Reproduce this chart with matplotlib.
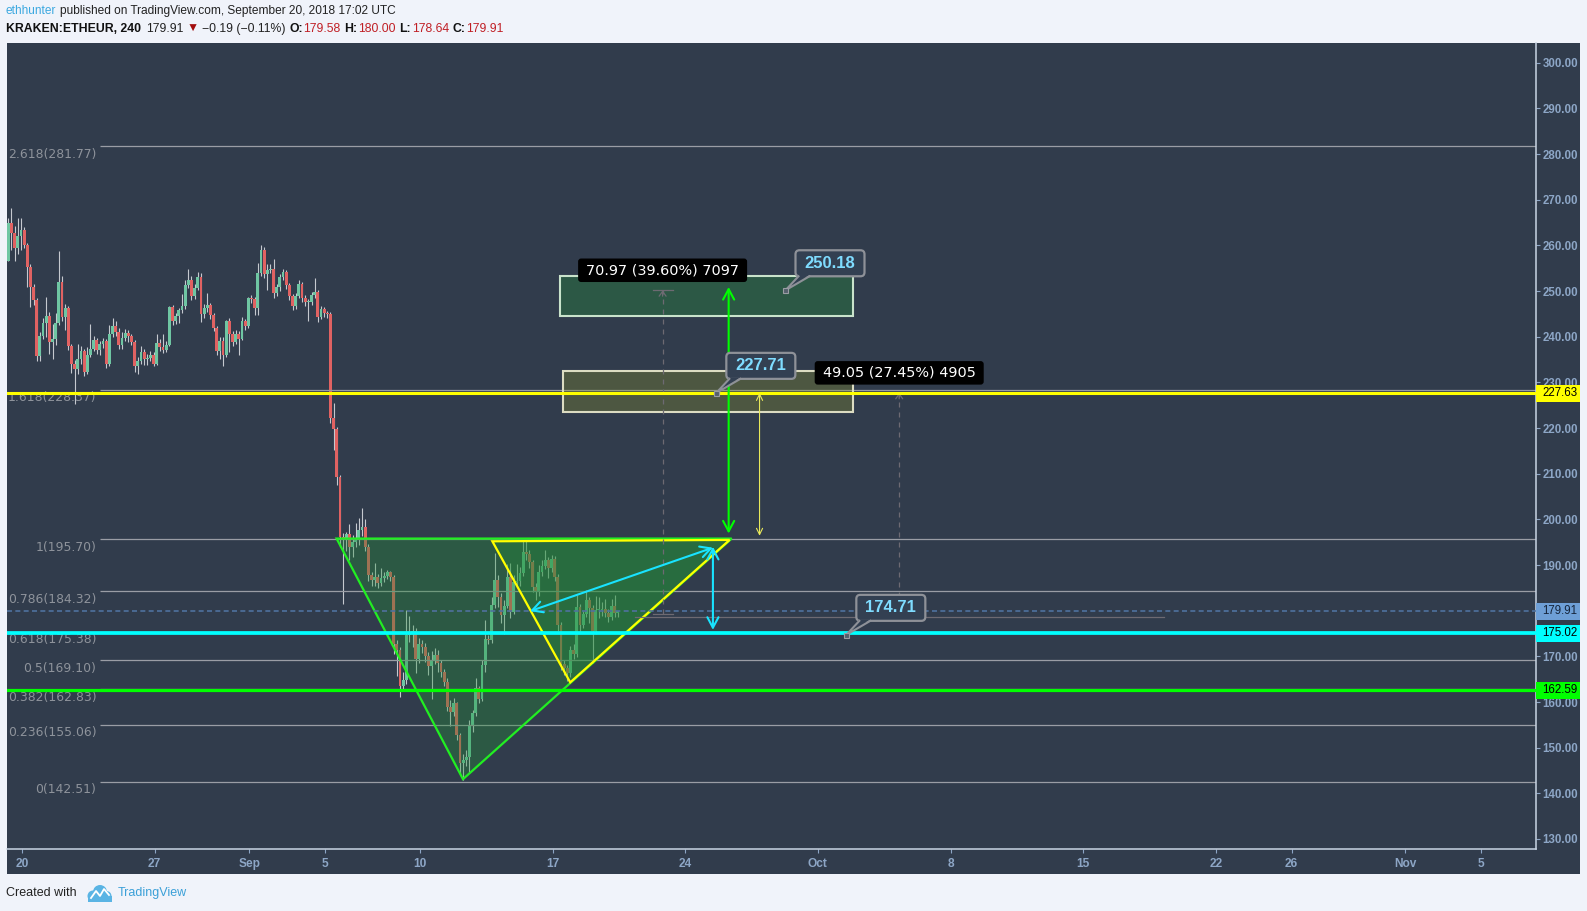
import matplotlib
matplotlib.use("Agg")
import matplotlib.pyplot as plt
from matplotlib.patches import Rectangle, Polygon, FancyBboxPatch, Circle
from matplotlib.transforms import IdentityTransform
import numpy as np

# ---------------- data ----------------
first_open = 256.6
closes = [
    264.9, 262.8, 259.5, 262.0, 263.3, 260.1, 255.3, 250.9, 248.0, 235.7,
    240.1, 243.1, 244.5, 238.9, 239.5, 243.0, 252.0, 244.4, 246.4, 238.0,
    234.1, 233.0, 235.2, 236.8, 232.3, 236.0, 237.4, 239.2, 237.1, 238.4,
    239.1, 234.0, 240.7, 242.3, 241.1, 238.2, 239.8, 240.9, 240.1, 238.9,
    233.6, 234.7, 236.7, 235.2, 235.4, 236.0, 234.1, 238.7, 237.8, 237.2,
    238.3, 246.5, 243.4, 244.5, 245.8, 246.7, 251.4, 252.4, 248.9, 250.7,
    253.0, 245.0, 246.4, 246.9, 244.7, 241.9, 236.8, 239.1, 236.0, 243.4,
    240.5, 238.9, 240.7, 239.6, 243.4, 242.3, 248.4, 248.2, 246.2, 253.9,
    258.9, 253.8, 254.6, 254.9, 249.6, 250.8, 253.0, 254.2, 251.3, 248.9,
    246.7, 248.9, 251.5, 248.4, 247.6, 247.6, 249.1, 249.7, 244.4, 246.0,
    245.1, 245.0, 222.3,
    219.9, 209.2, 196.2, 195.6, 196.8, 194.0, 195.0, 195.8, 197.6, 198.4,
    194.0, 187.9, 186.7, 187.4, 186.0, 187.1, 187.6, 188.5, 187.4, 172.8,
    171.4, 163.5, 164.8, 174.7, 175.2, 175.6, 169.5, 172.8, 172.1, 170.1,
    167.9, 169.2, 170.3, 168.5, 166.6, 164.4, 159.0, 157.9, 159.7, 152.7,
    146.7, 147.3, 148.0, 154.9, 157.5, 163.0, 160.6, 168.1, 173.7, 173.5,
    181.2, 186.8, 182.9, 179.0, 181.0, 187.4, 179.8, 186.2, 186.5, 188.3,
    192.9, 192.5, 190.7, 185.1, 184.1, 188.5, 189.8, 191.1, 189.3, 191.4,
    187.4, 176.9, 168.4, 167.5, 166.3, 171.5, 170.6, 180.7, 176.9, 179.3,
    182.3, 180.5, 175.6, 180.1, 180.2, 180.3, 179.6, 178.6, 181.0, 179.58,
    179.91,
]
highs = [
    266.0, 268.3, 264.2, 265.9, 265.9, 264.0, 260.5, 256.0, 251.5, 248.5,
    241.1, 244.0, 248.7, 245.5, 242.9, 245.1, 258.7, 253.2, 247.1, 246.8,
    238.5, 234.8, 238.5, 237.9, 237.3, 237.8, 242.9, 240.2, 239.8, 239.0,
    239.8, 239.6, 242.5, 244.1, 243.5, 242.0, 241.0, 241.8, 241.5, 240.6,
    239.3, 235.6, 237.9, 237.3, 236.2, 236.9, 236.6, 240.7, 239.5, 240.7,
    239.0, 246.8, 246.9, 245.3, 246.3, 249.4, 252.4, 254.8, 253.2, 251.6,
    254.2, 254.0, 247.2, 249.5, 247.5, 245.2, 242.4, 240.0, 240.0, 243.6,
    244.0, 241.2, 241.5, 241.3, 244.4, 243.9, 248.8, 249.2, 248.6, 256.2,
    260.1, 259.6, 256.0, 255.9, 257.1, 251.6, 253.8, 254.9, 254.6, 251.8,
    249.3, 249.6, 252.4, 252.0, 249.2, 248.3, 249.8, 252.9, 250.3, 246.8,
    246.5, 245.7, 245.5,
    225.4, 220.3, 209.8, 197.0, 197.3, 199.0, 196.6, 199.1, 200.2, 202.5,
    200.0, 194.6, 188.5, 190.5, 188.0, 189.3, 188.5, 189.0, 188.8, 187.8,
    173.6, 172.1, 166.5, 180.1, 178.8, 176.8, 176.2, 174.0, 173.5, 172.9,
    170.9, 171.2, 171.8, 171.5, 169.2, 167.3, 165.2, 160.4, 160.9, 160.1,
    153.3, 148.7, 149.5, 156.1, 158.2, 165.3, 163.5, 169.1, 178.0, 174.6,
    182.9, 192.7, 187.9, 183.8, 182.3, 190.2, 190.5, 187.8, 190.3, 189.6,
    195.6, 195.3, 193.2, 191.2, 186.0, 189.9, 191.0, 193.2, 191.8, 192.2,
    191.9, 188.0, 177.5, 169.1, 168.2, 172.3, 172.6, 183.5, 181.5, 180.0,
    184.5, 183.0, 181.2, 183.2, 183.0, 181.8, 182.5, 180.4, 182.6, 183.5,
    180.0,
]
lows = [
    256.6, 259.1, 256.5, 258.2, 259.0, 259.5, 250.9, 246.5, 247.0, 234.7,
    234.7, 239.5, 240.0, 236.3, 235.2, 238.2, 242.5, 243.5, 241.4, 237.0,
    232.0, 225.3, 231.9, 234.0, 231.5, 231.8, 235.5, 236.9, 236.2, 235.9,
    237.6, 233.1, 233.5, 239.9, 240.2, 237.4, 237.3, 239.0, 238.8, 238.1,
    232.3, 231.9, 234.1, 233.8, 233.9, 234.6, 233.7, 233.9, 236.9, 236.4,
    236.6, 237.9, 242.6, 242.8, 243.0, 245.1, 246.0, 250.6, 248.1, 248.3,
    250.2, 243.3, 244.1, 245.5, 243.8, 241.2, 236.0, 235.2, 233.5, 235.6,
    236.7, 238.0, 238.4, 235.9, 239.2, 241.5, 241.9, 247.4, 244.7, 244.7,
    253.2, 252.9, 250.2, 253.9, 248.5, 249.0, 250.1, 252.4, 250.5, 248.1,
    245.9, 246.0, 248.5, 247.6, 246.8, 243.4, 246.9, 248.4, 243.3, 243.9,
    244.4, 244.2, 221.0,
    215.2, 207.5, 193.9, 181.4, 193.0, 191.2, 191.8, 193.9, 194.4, 196.4,
    193.0, 186.6, 185.3, 185.5, 185.0, 185.5, 186.3, 187.0, 186.5, 170.5,
    165.8, 161.2, 162.4, 164.0, 173.2, 172.0, 166.3, 168.5, 170.8, 168.7,
    165.9, 160.6, 168.4, 166.6, 165.4, 163.6, 158.0, 154.7, 157.0, 151.6,
    144.3, 143.0, 145.9, 144.5, 153.4, 156.9, 159.8, 160.2, 166.5, 172.6,
    172.9, 180.5, 180.7, 177.2, 175.0, 180.5, 178.3, 179.2, 185.6, 185.4,
    187.6, 191.0, 189.4, 184.0, 182.3, 183.3, 187.6, 189.1, 187.2, 188.5,
    186.5, 175.5, 167.0, 165.9, 164.6, 165.5, 169.4, 169.9, 175.3, 176.2,
    178.6, 177.3, 168.5, 175.0, 178.3, 178.9, 178.6, 177.5, 178.0, 178.7,
    178.64,
]
first_candle_day = -0.723          # days since Aug 20 00:00 UTC
candle_step = 1.0 / 6.0            # 4h candles

x_tick_days = [0, 7, 12, 16, 21, 28, 35, 42, 49, 56, 63, 67, 73, 77]
x_tick_labels = ['20', '27', 'Sep', '5', '10', '17', '24', 'Oct', '8', '15', '22', '26', 'Nov', '5']
y_ticks = list(range(130, 301, 10))

fib_ratios = ['2.618', '1.618', '1', '0.786', '0.618', '0.5', '0.382', '0.236', '0']
fib_levels = [281.77, 228.37, 195.70, 184.32, 175.38, 169.10, 162.83, 155.06, 142.51]
fib_start_day = 4.09

level_yellow = 227.63
level_cyan = 175.02
level_lime = 162.59
last_price = 179.91

green_tri = [(16.60, 195.8), (23.27, 143.1), (37.45, 195.8)]
yellow_tri = [(24.82, 195.2), (28.93, 164.3), (37.34, 195.5)]
cyan_diag = [(26.81, 179.9), (36.46, 193.8)]
cyan_vert = [(36.46, 194.0), (36.46, 175.8)]
green_vert = [(37.29, 196.9), (37.29, 250.9)]
yellow_vert = [(38.92, 196.4), (38.92, 227.7)]
zone_green = (28.41, 43.85, 244.5, 253.3)
zone_olive = (28.54, 43.85, 223.5, 232.5)
measure_days = [(33.28, 34.33), (32.33, 60.25)]
measure_low = [179.21, 178.66]
measure_high = [250.18, 227.71]
measure_text = ['70.97 (39.60%) 7097', '49.05 (27.45%) 4905']
callout_days = [40.29, 36.64, 43.50]
callout_prices = [250.18, 227.71, 174.71]

# ---------------- style ----------------
W, H = 1587, 911
BG = '#313c4c'
PAGE = '#f0f3fa'
AXC = '#8da6c6'
GREEN_C = '#6fc6a3'
RED_C = '#e06262'
WICK = '#c5c9cf'
FIBC = '#9a9da5'
SANS = ['Liberation Sans', 'DejaVu Sans']

fig = plt.figure(figsize=(W / 100, H / 100), dpi=100)
fig.patch.set_facecolor(PAGE)

left_px, right_px, top_px, bot_px = 6.5, 1536.3, 43.3, 849.3
ax = fig.add_axes([left_px / W, (H - bot_px) / H, (right_px - left_px) / W, (bot_px - top_px) / H])
ax.set_facecolor(BG)
fig.add_artist(Rectangle((left_px, H - 874), 1580 - left_px, 874 - top_px,
                         transform=IdentityTransform(), fc=BG, ec='none', zorder=-1))

ax.set_xlim(-0.818, 79.91)
ax.set_ylim(127.74, 304.27)

for s in ['top', 'left']:
    ax.spines[s].set_visible(False)
for s in ['right', 'bottom']:
    ax.spines[s].set_color('#c9d5e4')
    ax.spines[s].set_linewidth(1.1)

ax.yaxis.tick_right()
ax.set_yticks(y_ticks)
ax.set_yticklabels([f'{v:.2f}' for v in y_ticks], family=SANS, fontsize=8.3, fontweight='bold')
ax.tick_params(axis='y', colors=AXC, length=2.6, width=0.8, pad=2.0, labelcolor=AXC)
ax.set_xticks(x_tick_days)
ax.set_xticklabels(x_tick_labels, family=SANS, fontsize=8.6, fontweight='bold')
ax.tick_params(axis='x', colors=AXC, length=3, width=0.8, pad=3.0, labelcolor=AXC)

# ---------------- candles ----------------
n = len(closes)
c = np.array(closes)
o = np.array([first_open] + closes[:-1])
hi = np.maximum(np.array(highs), np.maximum(o, c))
lo = np.minimum(np.array(lows), np.minimum(o, c))
days = first_candle_day + np.arange(n) * candle_step
ax.vlines(days, lo, hi, colors=WICK, lw=0.8, zorder=2)
bottom = np.minimum(o, c)
height = np.maximum(np.abs(c - o), 0.25)
cols = [GREEN_C if cc >= oo else RED_C for oo, cc in zip(o, c)]
ax.bar(days, height, bottom=bottom, width=0.15, color=cols, lw=0, zorder=2.2)

# ---------------- fib retracement ----------------
xmax = ax.get_xlim()[1]
for r, lv in zip(fib_ratios, fib_levels):
    ax.plot([fib_start_day, xmax], [lv, lv], color=FIBC, lw=0.9, zorder=2.5, solid_capstyle='butt')
    ax.text(fib_start_day - 0.16, lv - 0.35, f'{r}({lv:.2f})', ha='right', va='top',
            color='#8e939b', fontsize=8.9, family='DejaVu Sans', zorder=2.5)

# ---------------- triangles ----------------
fill_rgba = (35 / 255, 146 / 255, 55 / 255, 0.35)
ax.add_patch(Polygon(green_tri, closed=True, fc=fill_rgba, ec='none', zorder=3))
ax.add_patch(Polygon(green_tri, closed=True, fc='none', ec='#22ee22', lw=1.6, zorder=3.3))
ax.add_patch(Polygon(yellow_tri, closed=True, fc=fill_rgba, ec='none', zorder=3.1))
ax.add_patch(Polygon(yellow_tri, closed=True, fc='none', ec='#ffff00', lw=1.6, zorder=3.4))

# ---------------- zones ----------------
g0, g1, gl, gh = zone_green
ax.add_patch(Rectangle((g0, gl), g1 - g0, gh - gl, fc=(35 / 255, 146 / 255, 55 / 255, 0.33),
                       ec='#c9e3cb', lw=1.5, zorder=3.5))
y0_, y1_, yl, yh = zone_olive
ax.add_patch(Rectangle((y0_, yl), y1_ - y0_, yh - yl, fc=(150 / 255, 160 / 255, 40 / 255, 0.28),
                       ec='#dcdcc2', lw=1.5, zorder=3.5))

# ---------------- price range measures ----------------
MCOL = '#6d6a72'
for (d0, d1), lo_, hi_ in zip(measure_days, measure_low, measure_high):
    dm = (d0 + d1) / 2
    ax.plot([d0, d1], [hi_, hi_], color=MCOL, lw=0.9, zorder=3.6)
    ax.plot([d0, d1], [lo_, lo_], color=MCOL, lw=0.9, zorder=3.6)
    ax.plot([dm, dm], [lo_, hi_], color=MCOL, lw=0.9, ls=(0, (4, 4)), zorder=3.6)
    ax.annotate('', xy=(dm, hi_), xytext=(dm, hi_ - 1.3),
                arrowprops=dict(arrowstyle='->,head_length=0.35,head_width=0.25', color=MCOL, lw=0.9,
                                shrinkA=0, shrinkB=0), zorder=3.6)

# ---------------- horizontal levels ----------------
xmin = ax.get_xlim()[0]
ax.plot([xmin, xmax], [last_price, last_price], color='#4f719e', lw=1.2, ls=(0, (3, 2)), zorder=3.7)
ax.plot([xmin, xmax], [level_yellow, level_yellow], color='#ffff00', lw=2.2, zorder=4)
ax.plot([xmin, xmax], [level_cyan, level_cyan], color='#00ffff', lw=2.7, zorder=4)
ax.plot([xmin, xmax], [level_lime, level_lime], color='#00ff00', lw=2.3, zorder=4)

# ---------------- arrows ----------------
def arrow(p0, p1, color, lw, hl, hw):
    ax.annotate('', xy=p1, xytext=p0,
                arrowprops=dict(arrowstyle=f'<->,head_length={hl},head_width={hw}', color=color, lw=lw,
                                shrinkA=0, shrinkB=0), zorder=5)

arrow(cyan_diag[0], cyan_diag[1], '#19e3ff', 1.5, 0.75, 0.4)
arrow(cyan_vert[0], cyan_vert[1], '#19e3ff', 1.5, 0.75, 0.4)
arrow(green_vert[0], green_vert[1], '#00ff00', 1.5, 0.75, 0.4)
arrow(yellow_vert[0], yellow_vert[1], '#e8e85a', 0.8, 0.45, 0.22)

# ---------------- labels / callouts (pixel layout) ----------------
def to_px(d, p):
    return ax.transData.transform((d, p))

for (d0, d1), hi_, txt in zip(measure_days, measure_high, measure_text):
    X, Y = to_px((d0 + d1) / 2, hi_)
    cy = Y + 20
    bw, bh = 169, 23.5
    ax.add_patch(FancyBboxPatch((X - bw / 2, cy - bh / 2), bw, bh,
                                boxstyle='round,pad=0,rounding_size=3', transform=IdentityTransform(),
                                fc='#000000', ec='none', zorder=7, clip_on=False))
    ax.text(X, cy, txt, transform=IdentityTransform(), ha='center', va='center', color='white',
            fontsize=10.4, family='DejaVu Sans', zorder=7.5)

for d, pval in zip(callout_days, callout_prices):
    X, Y = to_px(d, pval)
    bx, by, bw, bh = X + 10, Y + 14, 69, 26
    ax.add_patch(FancyBboxPatch((bx, by), bw, bh, boxstyle='round,pad=0,rounding_size=4',
                                transform=IdentityTransform(), fc='#334052', ec='#8e9198', lw=1.6,
                                zorder=7, clip_on=False))
    ax.add_patch(Polygon([(bx + 3, by + 1.5), (bx + 14, by + 1.5), (X, Y)], closed=True,
                         transform=IdentityTransform(), fc='#334052', ec='none', zorder=7.2, clip_on=False))
    ax.plot([bx + 3, X, bx + 14], [by, Y, by], transform=IdentityTransform(), color='#8e9198',
            lw=1.5, zorder=7.3, solid_joinstyle='miter')
    ax.plot([X], [Y], transform=IdentityTransform(), marker='s', ms=3.6, mfc='#55606c', mec='#9a9da3',
            mew=0.8, zorder=7.4)
    ax.text(bx + bw / 2, by + bh / 2, f'{pval:.2f}', transform=IdentityTransform(), ha='center',
            va='center', color='#7fdcff', fontsize=12, fontweight='bold', family=SANS, zorder=7.5)

# ---------------- price axis tags ----------------
for val, fc, tc in [(level_yellow, '#ffff00', '#000000'), (last_price, '#6e9fd6', '#15243a'),
                    (level_cyan, '#00ffff', '#000000'), (level_lime, '#00ff00', '#000000')]:
    X, Y = to_px(xmax, val)
    ax.add_patch(Rectangle((X, Y - 8.6), 1580 - X, 17.2, transform=IdentityTransform(), fc=fc, ec='none',
                           zorder=8, clip_on=False))
    ax.text(X + 6.2, Y, f'{val:.2f}', transform=IdentityTransform(), ha='left', va='center', color=tc,
            fontsize=8.3, family=SANS, zorder=8.5, clip_on=False)

# ---------------- header & footer ----------------
renderer = fig.canvas.get_renderer()

def seq(x, y, pieces, size):
    for txt, color, weight, gap in pieces:
        t = fig.text(x / W, 1 - y / H, txt, color=color, fontsize=size, fontweight=weight,
                     family=SANS, va='center', ha='left')
        bb = t.get_window_extent(renderer)
        x = bb.x1 + gap

RED_T = '#c01f25'
seq(6, 11, [('ethhunter', '#3ba8e0', 'normal', 3.5),
            ('published on TradingView.com, September 20, 2018 17:02 UTC', '#222222', 'normal', 0)], 8.6)
seq(6, 29, [('KRAKEN:ETHEUR, 240', '#111111', 'bold', 5),
            ('179.91', '#222222', 'normal', 3),
            ('\u25bc', '#a30d0d', 'normal', 3),
            ('\u22120.19 (\u22120.11%)', '#222222', 'normal', 4),
            ('O:', '#111111', 'bold', 0.5), ('179.58', RED_T, 'normal', 4),
            ('H:', '#111111', 'bold', 0.5), ('180.00', RED_T, 'normal', 4),
            ('L:', '#111111', 'bold', 0.5), ('178.64', RED_T, 'normal', 4),
            ('C:', '#111111', 'bold', 0.5), ('179.91', RED_T, 'normal', 0)], 8.8)

fig.text(6 / W, 1 - 893 / H, 'Created with', color='#222222', fontsize=9.0,
         family=SANS, va='center', ha='left')
LOGO = '#5ab4e4'
for cx, cy, r in [(93, 896, 5.5), (100, 892, 7), (106.5, 896, 5)]:
    fig.add_artist(Circle((cx, H - cy), r, transform=IdentityTransform(), fc=LOGO, ec='none'))
fig.add_artist(Rectangle((88, H - 901.5), 24, 6, transform=IdentityTransform(), fc=LOGO, ec='none'))
fig.add_artist(plt.Line2D([91, 96, 100, 104, 109], [H - 898, H - 891, H - 896, H - 889, H - 895],
                          transform=IdentityTransform(), color='white', lw=1.3))
fig.text(118 / W, 1 - 893 / H, 'TradingView', color='#3ba0d8', fontsize=9.0,
         family=SANS, va='center', ha='left')

fig.savefig('out.png', dpi=100, facecolor=PAGE)
